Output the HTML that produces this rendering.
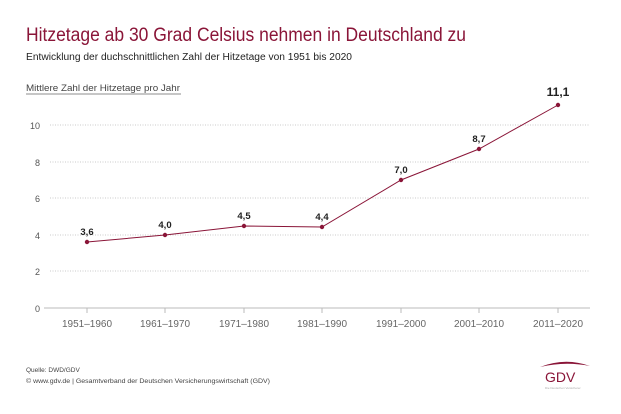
<!DOCTYPE html>
<html><head><meta charset="utf-8"><style>
body{margin:0;background:#fff;width:621px;height:409px;overflow:hidden;font-family:"Liberation Sans",sans-serif}
</style></head><body>
<svg width="621" height="409" xmlns="http://www.w3.org/2000/svg" font-family="Liberation Sans, sans-serif">
<text x="26" y="41" font-size="19" fill="#8a1538" textLength="440" lengthAdjust="spacingAndGlyphs">Hitzetage ab 30 Grad Celsius nehmen in Deutschland zu</text>
<text x="26" y="60" font-size="10" fill="#222" textLength="326" lengthAdjust="spacingAndGlyphs">Entwicklung der duchschnittlichen Zahl der Hitzetage von 1951 bis 2020</text>
<text x="26" y="91" font-size="9" fill="#444" textLength="154" lengthAdjust="spacingAndGlyphs">Mittlere Zahl der Hitzetage pro Jahr</text>
<line x1="26" y1="94" x2="181" y2="94" stroke="#666" stroke-width="0.8"/>
<g stroke="#bbb" stroke-dasharray="1,1.5" stroke-width="0.8">
<line x1="50" y1="125" x2="590" y2="125"/><line x1="50" y1="162" x2="590" y2="162"/>
<line x1="50" y1="198" x2="590" y2="198"/><line x1="50" y1="235" x2="590" y2="235"/>
<line x1="50" y1="271" x2="590" y2="271"/></g>
<line x1="44" y1="308" x2="590" y2="308" stroke="#bbb" stroke-width="1"/>
<g stroke="#bbb"><line x1="87" y1="308" x2="87" y2="313"/><line x1="165" y1="308" x2="165" y2="313"/><line x1="244" y1="308" x2="244" y2="313"/><line x1="322" y1="308" x2="322" y2="313"/><line x1="401" y1="308" x2="401" y2="313"/><line x1="479" y1="308" x2="479" y2="313"/><line x1="558" y1="308" x2="558" y2="313"/></g>
<g font-size="9" fill="#555" text-anchor="end">
<text x="40" y="129">10</text><text x="40" y="166">8</text><text x="40" y="202">6</text><text x="40" y="239">4</text><text x="40" y="275">2</text><text x="40" y="312">0</text></g>
<g font-size="10" fill="#666" text-anchor="middle" lengthAdjust="spacingAndGlyphs">
<text x="87" y="327" textLength="50">1951–1960</text><text x="165" y="327" textLength="50">1961–1970</text><text x="244" y="327" textLength="50">1971–1980</text><text x="322" y="327" textLength="50">1981–1990</text><text x="401" y="327" textLength="50">1991–2000</text><text x="479" y="327" textLength="50">2001–2010</text><text x="558" y="327" textLength="50">2011–2020</text></g>
<polyline fill="none" stroke="#8a1538" stroke-width="1" points="87,242 165,235 244,226 322,227 401,180 479,149 558,105"/>
<g fill="#8a1538"><circle cx="87" cy="242" r="2.2"/><circle cx="165" cy="235" r="2.2"/><circle cx="244" cy="226" r="2.2"/><circle cx="322" cy="227" r="2.2"/><circle cx="401" cy="180" r="2.2"/><circle cx="479" cy="149" r="2.2"/><circle cx="558" cy="105" r="2.2"/></g>
<g font-size="9.5" font-weight="bold" fill="#222" text-anchor="middle">
<text x="87" y="235">3,6</text><text x="165" y="228">4,0</text><text x="244" y="219">4,5</text><text x="322" y="220">4,4</text><text x="401" y="173">7,0</text><text x="479" y="142">8,7</text><text x="558" y="96" font-size="12">11,1</text></g>
<text x="26" y="372" font-size="6.5" fill="#444">Quelle: DWD/GDV</text>
<text x="26" y="383" font-size="6.5" fill="#444" textLength="244" lengthAdjust="spacingAndGlyphs">© www.gdv.de | Gesamtverband der Deutschen Versicherungswirtschaft (GDV)</text>
<path d="M540,367 Q565,357 590,366 Q565,361 540,367Z" fill="#8a1538"/>
<text x="545" y="382" font-size="14" fill="#8a1538">GDV</text>
<text x="545" y="389" font-size="3" fill="#aaa">Die Deutschen Versicherer</text>
</svg>
</body></html>
